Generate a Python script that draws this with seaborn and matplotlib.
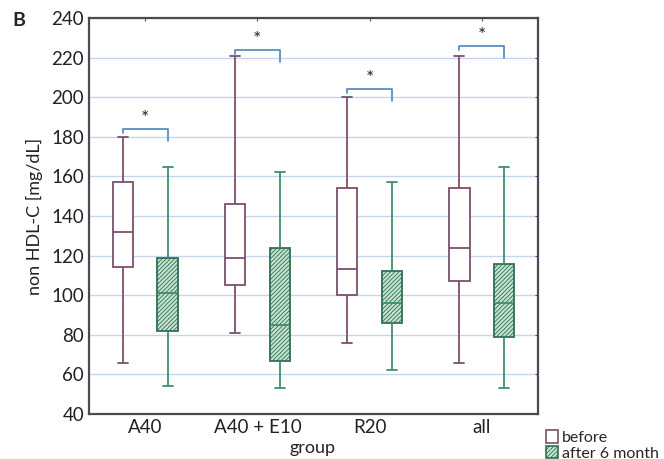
import seaborn as sns
import matplotlib.pyplot as plt
import pandas as pd
import numpy as np
from matplotlib.patches import Patch

sns.set_style("white")
plt.rcParams['font.family'] = ['Lato', 'DejaVu Sans']
plt.rcParams['hatch.linewidth'] = 0.6

# Box statistics (mg/dL)
groups = ['A40', 'A40 + E10', 'R20', 'all']
times = ['before', 'after 6 month']

before_low = [66, 81, 76, 66]
before_q1 = [114, 105, 100, 107]
before_med = [132, 119, 113, 124]
before_q3 = [157, 146, 154, 154]
before_high = [180, 221, 200, 221]

after_low = [54, 53, 62, 53]
after_q1 = [82, 67, 86, 79]
after_med = [101, 85, 96, 96]
after_q3 = [119, 124, 112, 116]
after_high = [165, 162, 157, 165]

# significance bracket heights
bracket_y = [184, 224, 204, 226]

rows = []
for i, g in enumerate(groups):
    for v in [before_low[i], before_q1[i], before_med[i], before_q3[i], before_high[i]]:
        rows.append({'group': g, 'time': 'before', 'value': v})
    for v in [after_low[i], after_q1[i], after_med[i], after_q3[i], after_high[i]]:
        rows.append({'group': g, 'time': 'after 6 month', 'value': v})
df = pd.DataFrame(rows)

before_col = '#7d4f6b'
after_col = '#3f8f6c'
after_fill = '#c4e3d0'

fig = plt.figure(figsize=(6.64, 4.59), dpi=100)
ax = fig.add_axes([89 / 664, 1 - 414 / 459, 449 / 664, 396 / 459])

sns.boxplot(data=df, x='group', y='value', hue='time', order=groups, hue_order=times,
            palette={'before': 'white', 'after 6 month': after_fill},
            whis=(0, 100), width=0.8, gap=0.55, linewidth=1.3, legend=False, ax=ax)

# colour each box by its side of the group centre
for p in ax.patches:
    xs = p.get_path().vertices[:, 0]
    xc = np.mean(xs)
    if xc - round(xc) < 0:
        p.set_facecolor('white')
        p.set_edgecolor(before_col)
    else:
        p.set_facecolor(after_fill)
        p.set_edgecolor('#2f6f52')
        p.set_hatch('////////')
for ln in ax.lines:
    xd = np.asarray(ln.get_xdata(), dtype=float)
    if len(xd) == 0:
        continue
    xc = xd.mean()
    ln.set_color(before_col if xc - round(xc) < 0 else after_col)

# significance brackets
for i, yb in enumerate(bracket_y):
    xl, xr = i - 0.2, i + 0.2
    ax.plot([xl, xl, xr, xr], [yb - 2, yb, yb, yb - 6], color='#5b8ec4', lw=1.3)
    ax.text(i, yb + 1, '*', ha='center', va='bottom', fontsize=14)

ax.set_ylim(40, 240)
ax.set_xlim(-0.5, 3.5)
ax.set_yticks(range(40, 241, 20))
ax.yaxis.grid(True, color='#c6d6ef', lw=1.0)
ax.set_axisbelow(True)
for s in ax.spines.values():
    s.set_color('#4a4a55')
    s.set_linewidth(1.6)
ax.tick_params(axis='both', direction='in', length=2, labelsize=13.5, colors='#4a4a55',
               labelcolor='#222222', top=True, right=True)
ax.set_xlabel('group', fontsize=13, color='#222222')
ax.set_ylabel('non HDL-C [mg/dL]', fontsize=13, color='#222222', labelpad=6)
ax.xaxis.set_label_coords((313 - 89) / 449, -0.065)

fig.text(12 / 664, 1 - 20 / 459, 'B', fontsize=14, fontweight='bold', va='center')

handles = [Patch(facecolor='white', edgecolor=before_col, lw=1.2),
           Patch(facecolor=after_fill, edgecolor='#2f6f52', hatch='////////', lw=1.2)]
fig.legend(handles, ['before', 'after 6 month'], loc='upper left',
           bbox_to_anchor=(540 / 664, 1 - 424 / 459), frameon=False, fontsize=11.5,
           handlelength=0.7, handleheight=0.8, handletextpad=0.3, labelspacing=0.05,
           borderaxespad=0)

plt.savefig('out.png', dpi=100)
plt.close()
